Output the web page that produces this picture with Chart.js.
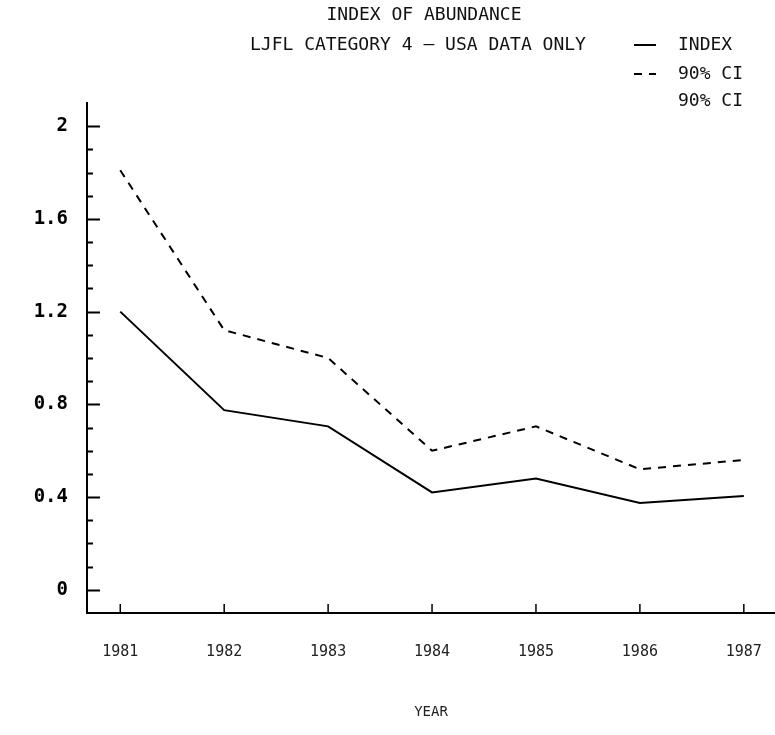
<!DOCTYPE html>
<html>
<head>
<meta charset="utf-8">
<title>Index of Abundance</title>
<script src="https://cdn.jsdelivr.net/npm/chart.js@4.4.1/dist/chart.umd.min.js"></script>
<style>
  html, body { margin: 0; padding: 0; background: #fff; }
  canvas { display: block; }
</style>
</head>
<body>
<canvas id="chart" width="775" height="735"></canvas>
<script>
const years = [1981, 1982, 1983, 1984, 1985, 1986, 1987];
const indexValues = [1.20, 0.775, 0.705, 0.42, 0.48, 0.375, 0.405];
const upperCI = [1.81, 1.12, 1.00, 0.60, 0.705, 0.52, 0.56];
const legendLabels = ['INDEX', '90% CI', '90% CI'];

const MONO = '"DejaVu Sans Mono", "Liberation Mono", monospace';

const isMajor = (v) => Math.abs(v / 0.4 - Math.round(v / 0.4)) < 1e-6;

// ticks are drawn inward from the axes, like the plotter did
const axisTicks = {
  id: 'axisTicks',
  afterDraw(chart) {
    const { ctx, chartArea, scales: { x, y } } = chart;
    ctx.save();
    ctx.strokeStyle = '#000';
    ctx.lineWidth = 2;
    y.ticks.forEach((t) => {
      if (t.value < -0.01 || t.value > 2.01) return;
      const py = Math.round(y.getPixelForValue(t.value)) + 0.5;
      const len = isMajor(t.value) ? 13 : 6;
      ctx.beginPath();
      ctx.moveTo(chartArea.left, py);
      ctx.lineTo(chartArea.left + len, py);
      ctx.stroke();
    });
    ctx.lineWidth = 1.5;
    x.ticks.forEach((t) => {
      const px = x.getPixelForValue(t.value);
      ctx.beginPath();
      ctx.moveTo(px, chartArea.bottom);
      ctx.lineTo(px, chartArea.bottom - 9);
      ctx.stroke();
    });
    ctx.restore();
  },
};

// heading and legend in the top right corner
const header = {
  id: 'header',
  afterDraw(chart) {
    const ctx = chart.ctx;
    const ds = chart.data.datasets;
    ctx.save();
    ctx.fillStyle = '#111';
    ctx.font = '18px ' + MONO;
    ctx.textBaseline = 'middle';
    ctx.textAlign = 'center';
    ctx.fillText('INDEX OF ABUNDANCE', 424, 15);
    ctx.textAlign = 'left';
    ctx.fillText('LJFL CATEGORY 4 \u2014 USA DATA ONLY', 250, 45);

    const rows = [45, 74, 101];
    legendLabels.forEach((label, i) => {
      const d = ds[i];
      if (d) {
        ctx.strokeStyle = d.borderColor;
        ctx.lineWidth = 2;
        ctx.setLineDash(d.borderDash || []);
        ctx.beginPath();
        ctx.moveTo(634, rows[i]);
        ctx.lineTo(656, rows[i]);
        ctx.stroke();
        ctx.setLineDash([]);
      }
      ctx.fillText(label, 678, rows[i]);
    });
    ctx.restore();
  },
};

new Chart(document.getElementById('chart'), {
  type: 'line',
  data: {
    datasets: [
      {
        label: legendLabels[0],
        data: years.map((yr, i) => ({ x: yr, y: indexValues[i] })),
        borderColor: '#000',
        borderWidth: 2,
        pointRadius: 0,
        tension: 0,
      },
      {
        label: legendLabels[1],
        data: years.map((yr, i) => ({ x: yr, y: upperCI[i] })),
        borderColor: '#000',
        borderWidth: 2,
        borderDash: [8, 7],
        pointRadius: 0,
        tension: 0,
      },
    ],
  },
  options: {
    responsive: false,
    animation: false,
    events: [],
    layout: { padding: { top: 103, right: 0, bottom: 0, left: 0 } },
    plugins: {
      legend: { display: false },
      tooltip: { enabled: false },
    },
    scales: {
      x: {
        type: 'linear',
        min: 1980.68,
        max: 1987.3,
        afterFit: (scale) => {
          scale.height = 122;
          scale.paddingLeft = 0;
          scale.paddingRight = 0;
        },
        afterBuildTicks: (scale) => { scale.ticks = years.map((v) => ({ value: v })); },
        grid: { display: false },
        border: { display: true, color: '#000', width: 2 },
        ticks: {
          padding: 22,
          color: '#222',
          font: { family: MONO, size: 15 },
          callback: (v) => String(v),
        },
        title: {
          display: true,
          text: 'YEAR',
          color: '#222',
          font: { family: MONO, size: 14 },
          padding: { top: 0, bottom: 14 },
        },
      },
      y: {
        min: -0.1,
        max: 2.1,
        afterFit: (scale) => { scale.width = 87; },
        grid: { display: false },
        border: { display: true, color: '#000', width: 2 },
        ticks: {
          stepSize: 0.1,
          autoSkip: false,
          padding: 11,
          color: '#000',
          font: { family: MONO, size: 19, weight: 'bold' },
          callback: (v) => (isMajor(v) && v >= 0 ? String(+v.toFixed(1)) : ''),
        },
      },
    },
  },
  plugins: [axisTicks, header],
});
</script>
</body>
</html>
